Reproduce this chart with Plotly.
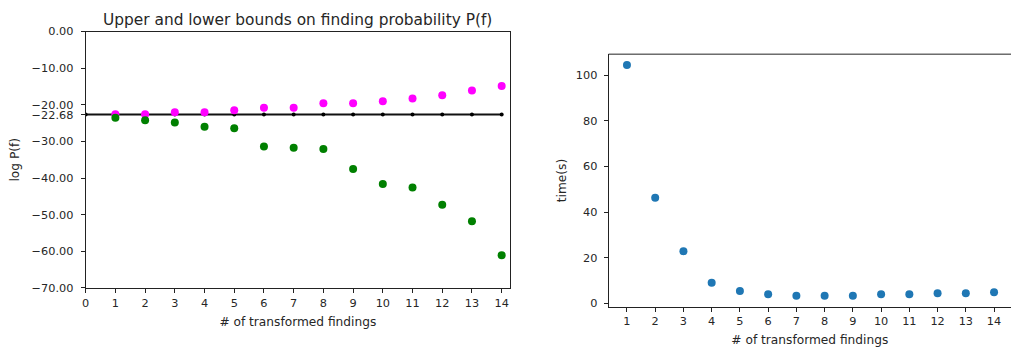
import plotly.graph_objects as go

# number of transformed findings
n_findings = list(range(1, 15))
baseline_x = list(range(0, 15))

# log P(f): exact value and upper / lower bounds
exact_logp = -22.68
upper_bound = [-22.6, -22.6, -22.05, -22.05, -21.5, -20.8, -20.8, -19.6, -19.6,
               -19.0, -18.3, -17.4, -16.1, -14.9]
lower_bound = [-23.55, -24.2, -24.8, -26.0, -26.4, -31.4, -31.7, -32.1, -37.5,
               -41.6, -42.6, -47.3, -51.8, -61.1]

# run time in seconds
run_time = [104.5, 46.3, 22.9, 9.0, 5.4, 4.0, 3.4, 3.4, 3.4, 4.0, 4.0, 4.4, 4.4, 4.9]

left_ticks = [0, -10, -20, exact_logp, -30, -40, -50, -60, -70]
left_ticktext = [f"{v:.2f}".replace("-", "\u2212") for v in left_ticks]

W, H = 1011, 354
FONT = "DejaVu Sans"
TXT = "#262626"
TICK_SIZE = 11.3
LABEL_SIZE = 12.2
TITLE_SIZE = 15.4


def px_x(p):
    return p / W


def px_y(p):
    return 1 - p / H


fig = go.Figure()

# left panel
fig.add_trace(go.Scatter(
    x=baseline_x, y=[exact_logp] * len(baseline_x), mode="lines+markers",
    line=dict(color="#111111", width=2), marker=dict(color="black", size=4),
    xaxis="x", yaxis="y", showlegend=False))
fig.add_trace(go.Scatter(
    x=n_findings, y=upper_bound, mode="markers",
    marker=dict(color="#ff00ff", size=8), xaxis="x", yaxis="y", showlegend=False))
fig.add_trace(go.Scatter(
    x=n_findings, y=lower_bound, mode="markers",
    marker=dict(color="#008000", size=8), xaxis="x", yaxis="y", showlegend=False))

# right panel
fig.add_trace(go.Scatter(
    x=n_findings, y=run_time, mode="markers",
    marker=dict(color="#1f77b4", size=8), xaxis="x2", yaxis="y2", showlegend=False))

axis_common = dict(
    showgrid=False, zeroline=False, showline=True, linecolor="#222222", linewidth=1,
    ticks="outside", ticklen=4, tickcolor="#222222", tickwidth=1,
    tickfont=dict(family=FONT, size=TICK_SIZE, color=TXT),
    title_font=dict(family=FONT, size=LABEL_SIZE, color=TXT),
)

fig.update_layout(
    width=W, height=H, margin=dict(l=0, r=0, t=0, b=0),
    paper_bgcolor="white", plot_bgcolor="white",
    font=dict(family=FONT, size=TICK_SIZE, color=TXT),
    xaxis=dict(axis_common, domain=[px_x(82), px_x(508)], range=[0, 14.28],
               tickmode="array", tickvals=list(range(0, 15)), mirror=True,
               anchor="y", title=dict(text="# of transformed findings", standoff=8)),
    yaxis=dict(axis_common, domain=[px_y(292.7), px_y(26.5)], range=[-70, 0],
               tickmode="array", tickvals=left_ticks, ticktext=left_ticktext,
               ticklabelstandoff=5,
               mirror=True, anchor="x", title=dict(text="log P(f)", standoff=9)),
    xaxis2=dict(axis_common, domain=[px_x(607), 1.0], range=[0.35, 14.6],
                tickmode="array", tickvals=n_findings, mirror=False,
                anchor="y2", title=dict(text="# of transformed findings", standoff=8)),
    yaxis2=dict(axis_common, domain=[px_y(312.3), px_y(50)], range=[-1.5, 109.2],
                tickmode="array", tickvals=[0, 20, 40, 60, 80, 100],
                ticklabelstandoff=4,
                anchor="x2", title=dict(text="time(s)", standoff=6)),
)

# top spine of the right panel
fig.add_shape(type="line", xref="x2 domain", yref="y2 domain",
              x0=0, x1=1, y0=1, y1=1, line=dict(color="#222222", width=1))

fig.add_annotation(
    text="Upper and lower bounds on finding probability P(f)",
    xref="paper", yref="paper", x=px_x((82 + 508) / 2), y=px_y(14.5),
    showarrow=False, font=dict(family=FONT, size=TITLE_SIZE, color=TXT),
    xanchor="center", yanchor="middle")

fig.write_html("out.html")
